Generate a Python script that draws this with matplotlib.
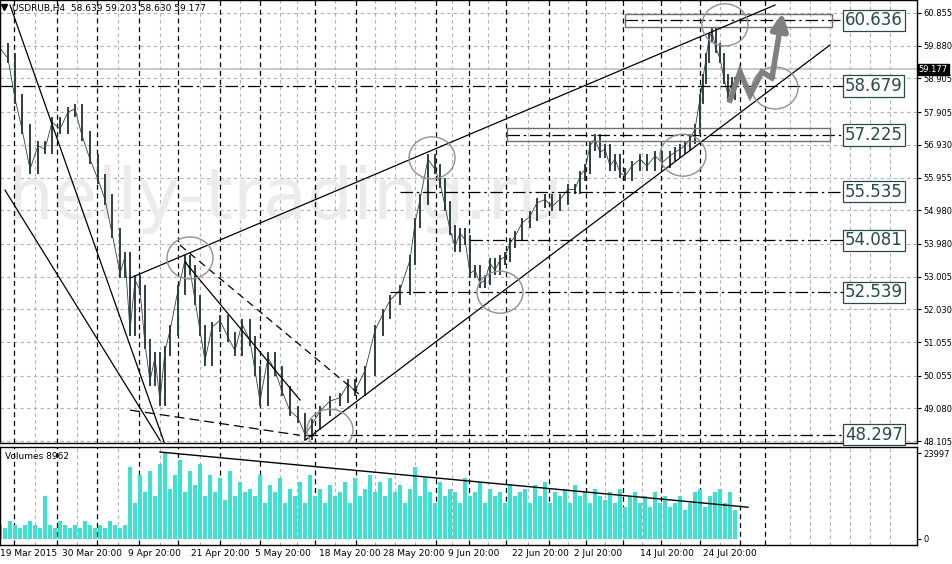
import numpy as np
import matplotlib
matplotlib.use("Agg")
import matplotlib.pyplot as plt
from matplotlib.patches import Ellipse, Rectangle

# price path (bar slot, close)
bar_x = [0, 8, 15, 22, 30, 38, 45, 52, 60, 68, 75, 82, 90, 98, 105, 112, 120, 125, 130, 135, 140,
         145, 150, 155, 160, 165, 170, 178, 185, 190, 195, 200, 205, 212, 220, 228, 235, 242, 250,
         255, 260, 268, 275, 282, 290, 298, 305, 312, 320, 330, 340, 348, 355, 365, 375, 383, 390,
         400, 410, 415, 420, 428, 435, 440, 445, 450, 455, 460, 465, 470, 475, 480, 485, 490, 495,
         500, 505, 510, 515, 522, 530, 537, 545, 552, 560, 568, 575, 580, 585, 590, 595, 600, 605,
         610, 615, 620, 625, 632, 640, 647, 655, 662, 670, 675, 680, 685, 690, 695, 700, 703, 706,
         709, 712, 716, 720, 724, 728, 732, 735]
bar_close = [59.8, 59.5, 58.3, 57.4, 56.2, 56.9, 56.8, 57.6, 57.4, 57.9, 58.0, 57.2, 56.5, 55.9, 55.3,
             54.3, 53.1, 53.6, 51.4, 52.9, 52.6, 51.0, 49.9, 50.6, 49.3, 50.8, 51.4, 52.6, 53.5,
             53.2, 52.3, 51.4, 50.5, 51.5, 51.7, 51.2, 50.8, 51.6, 51.1, 50.2, 49.3, 50.6, 50.2,
             49.6, 49.0, 48.8, 48.3, 48.6, 49.0, 49.3, 49.4, 49.8, 49.6, 50.2, 51.4, 51.9, 52.3,
             52.6, 53.5, 54.6, 55.3, 56.5, 56.2, 55.8, 55.1, 54.4, 53.9, 54.3, 54.1, 53.1, 53.2,
             52.8, 52.9, 53.4, 53.2, 53.5, 53.6, 54.0, 54.2, 54.6, 54.8, 55.2, 55.3, 55.1, 55.3,
             55.6, 55.6, 56.0, 56.2, 56.9, 57.1, 56.7, 56.8, 56.3, 56.5, 56.1, 56.0, 56.3, 56.5,
             56.3, 56.6, 56.4, 56.6, 56.7, 56.8, 56.9, 57.1, 57.4, 58.3, 58.9, 59.5, 60.1, 60.3,
             59.8, 59.5, 58.9, 58.4, 58.8, 58.4]

vol_x = list(range(0, 740, 5))
vol_k = [4, 3, 5, 4, 3, 4, 5, 4, 3, 12, 4, 3, 5, 4, 3, 4, 3, 5, 4, 3, 4, 3, 5, 4, 3, 4,
         20, 10, 18, 13, 19, 12, 21, 24, 14, 18, 22, 13, 19, 15, 21, 12, 18, 13, 17, 11, 19, 12, 16, 13, 14,
         12, 18, 10, 15, 13, 17, 10, 14, 12, 16, 10, 18, 12, 14, 10, 15, 12, 13, 16, 10, 17, 12, 14, 18, 13, 16, 12, 17, 13, 15,
         10, 14, 20, 12, 17, 13, 10, 16, 12, 14, 13, 10, 17, 12, 13, 16, 10, 14, 12, 13,
         10, 15, 12, 13, 14, 10, 15, 12, 16, 10, 13, 12, 14, 10, 15, 12, 13, 10, 14, 12,
         11, 13, 10, 14, 9, 12, 13, 10, 12, 9, 13, 10, 12, 9, 10, 12, 8, 10, 13, 14, 9, 12, 13, 14, 10, 13, 8]
vol_k = vol_k[:len(vol_x)]

price_ticks = [60.855, 59.880, 58.905, 57.905, 56.930, 55.955, 54.980, 53.980,
               53.005, 52.030, 51.055, 50.055, 49.080, 48.105]
levels = [60.636, 58.679, 57.225, 55.535, 54.081, 52.539, 48.297]
level_start = [625, 0, 507, 400, 470, 390, 305]
date_labels = ["19 Mar 2015", "30 Mar 20:00", "9 Apr 20:00", "21 Apr 20:00", "5 May 20:00",
               "18 May 20:00", "28 May 20:00", "9 Jun 20:00", "22 Jun 20:00", "2 Jul 20:00",
               "14 Jul 20:00", "24 Jul 20:00"]
date_x = [0, 62, 128, 191, 255, 319, 383, 448, 512, 574, 640, 703]
vgrid_black = [14, 57, 97, 139, 178, 220, 260, 315, 356, 436, 469, 506, 549, 586, 623, 661, 700, 740, 765]
vgrid_gray = [35, 77, 118, 160, 200, 240, 280, 297, 335, 375, 395, 415, 452, 488, 528, 568, 605, 642, 680, 720, 790, 810, 830, 850, 870, 890]

# trendlines (slot, price)
trend_lines = [((10, 61.09), (165, 48.0), '-'), ((5, 55.58), (160, 48.13), '-'),
               ((130, 52.96), (775, 61.09), '-'), ((305, 48.13), (830, 59.90), '-'),
               ((180, 53.94), (360, 49.48), (0, (6, 4))), ((185, 53.44), (300, 49.33), '-'),
               ((130, 49.03), (300, 48.28), (0, (8, 4)))]
circles = [(190, 53.56), (432, 56.54), (500, 52.54), (330, 48.43), (683, 56.62), (725, 60.50), (775, 58.62)]
arrow_x = [730, 740, 750, 762, 772, 783]
arrow_p = [58.26, 59.10, 58.41, 59.10, 58.92, 60.94]

W, H = 953, 564
fig = plt.figure(figsize=(W / 100, H / 100), dpi=100)
ax = fig.add_axes([0, 1 - 443 / H, 917 / W, 443 / H])
axv = fig.add_axes([0, 1 - 545 / H, 917 / W, 98 / H])
for a in (ax, axv):
    a.set_xlim(0, 917)
    a.yaxis.tick_right()
    a.tick_params(axis='y', labelsize=6, length=3, pad=1.5)
    a.set_xticks([])
    for s in a.spines.values():
        s.set_linewidth(1.0)
ax.set_ylim(48.05, 61.24)
ax.set_yticks(price_ticks)
ax.set_yticklabels([f"{t:.3f}" for t in price_ticks])
axv.set_ylim(-1714, 25711)
axv.set_yticks([0, 23997])
axv.set_yticklabels(["0", "23997"])

# grid
for t in price_ticks:
    ax.axhline(t, color='#b0b0b0', lw=0.8, ls=(0, (3, 3)), zorder=0)
for x in vgrid_gray:
    ax.axvline(x, color='#b0b0b0', lw=0.8, ls=(0, (3, 3)), zorder=0)
    axv.axvline(x, color='#b0b0b0', lw=0.8, ls=(0, (3, 3)), zorder=0)
for x in vgrid_black:
    ax.axvline(x, color='black', lw=0.9, ls=(0, (4, 3)), zorder=0.5)
    axv.axvline(x, color='black', lw=0.9, ls=(0, (4, 3)), zorder=0.5)

# watermark
ax.text(8, 55.3, "helly-trading.ru", fontsize=52, color='#ebebeb', va='center', zorder=0.2)

# price bars
for i in range(1, len(bar_x)):
    lo, hi = sorted((bar_close[i - 1], bar_close[i]))
    ax.plot([bar_x[i], bar_x[i]], [lo - 0.12, hi + 0.12], color='#2f3f3f', lw=1.4, zorder=2)
    ax.plot([bar_x[i - 1], bar_x[i]], [bar_close[i - 1], bar_close[i]], color='#2f3f3f', lw=0.6, zorder=2)

# current price line
ax.axhline(59.177, color='#c0c0c0', lw=1.2, zorder=1)
ax.text(1.002, 59.177, "59.177", transform=ax.get_yaxis_transform(), fontsize=6, color='white',
        va='center', ha='left', bbox=dict(boxstyle='square,pad=0.15', fc='black', ec='black'),
        clip_on=False, zorder=6)

# levels
for lv, xs in zip(levels, level_start):
    ax.plot([xs, 843], [lv, lv], color='black', lw=0.9, ls=(0, (10, 3, 2, 3)), zorder=3)
    ax.text(845, lv, f"{lv:.3f}", fontsize=12, color='#2a4a4a', va='center', ha='left',
            bbox=dict(boxstyle='square,pad=0.1', fc='white', ec='#2a4a4a', lw=0.9), zorder=5)
ax.add_patch(Rectangle((625, 60.43), 207, 0.39, fill=False, ec='#707070', lw=1.0, zorder=3))
ax.add_patch(Rectangle((507, 57.03), 323, 0.39, fill=False, ec='#707070', lw=1.0, zorder=3))

for (x0, y0), (x1, y1), ls in trend_lines:
    ax.plot([x0, x1], [y0, y1], color='black', lw=0.9, ls=ls, zorder=3)
for cx, cy in circles:
    ax.add_patch(Ellipse((cx, cy), 46, 1.25, fill=False, ec='#909090', lw=1.0, zorder=4))

ax.plot(arrow_x[:-1], arrow_p[:-1], color='#808080', lw=4, solid_joinstyle='miter', zorder=5)
ax.annotate("", xy=(arrow_x[-1], arrow_p[-1]), xytext=(arrow_x[-2], arrow_p[-2]),
            arrowprops=dict(arrowstyle='-|>,head_width=0.5,head_length=1.0', color='#808080', lw=4), zorder=5)

ax.text(12, 61.0, "USDRUB,H4  58.639 59.203 58.630 59.177", fontsize=6.5, va='center')
ax.plot([4], [61.02], marker='v', color='black', ms=4)

# volumes
axv.bar(vol_x, [v * 1000 for v in vol_k], width=3.2, color='#40e0d0', zorder=2)
axv.plot([160, 748], [24300, 8860], color='black', lw=1.0, zorder=3)
axv.text(5, 23000, "Volumes 8962", fontsize=6.5, va='center')

for x, lab in zip(date_x, date_labels):
    fig.text(x / W, 1 - 553 / H, lab, fontsize=6.5, va='center', ha='left')

fig.savefig("out.png", dpi=100, facecolor='white')
